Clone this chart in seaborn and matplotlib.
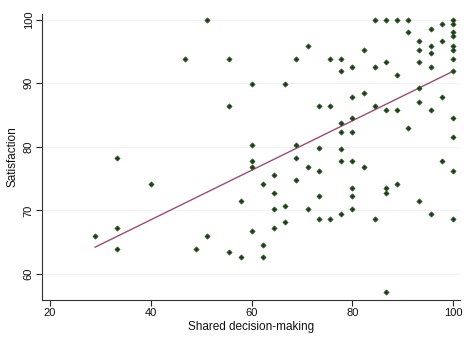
import numpy as np
import pandas as pd
import matplotlib
matplotlib.use("Agg")
import matplotlib.pyplot as plt
import seaborn as sns

# Shared decision-making score (share of items, in %) and satisfaction score per respondent
shared_dm = [
    51.1, 55.6, 71.1, 68.9, 75.6, 60.0, 66.7, 55.6, 73.3, 75.6, 60.0, 68.9, 73.3, 46.7,
    84.4, 86.7, 88.9, 91.1, 100.0, 100.0, 97.8, 95.6, 91.1, 100.0, 100.0, 93.3, 97.8,
    95.6, 100.0, 100.0, 82.2, 93.3, 95.6, 77.8, 100.0, 86.7, 93.3, 77.8, 80.0, 84.4,
    95.6, 88.9, 93.3, 80.0, 82.2, 97.8, 93.3, 84.4, 86.7, 88.9, 95.6, 80.0, 77.8,
    100.0, 77.8, 80.0, 91.1, 100.0, 77.8, 100.0,
    33.3, 40.0, 33.3, 28.9, 33.3, 48.9, 60.0, 60.0, 68.9, 71.1, 73.3, 64.4, 62.2,
    68.9, 64.4, 57.8, 73.3, 64.4, 66.7, 71.1, 73.3, 75.6, 64.4, 66.7, 60.0, 51.1,
    62.2, 55.6, 57.8, 62.2,
    77.8, 80.0, 82.2, 97.8, 100.0, 80.0, 86.7, 86.7, 88.9, 80.0, 93.3, 80.0, 77.8,
    84.4, 95.6, 100.0, 86.7,
]
satisfaction = [
    100.0, 93.9, 95.9, 93.9, 93.9, 89.9, 89.9, 86.5, 86.5, 86.5, 80.3, 80.3, 79.8, 93.9,
    100.0, 100.0, 100.0, 100.0, 100.0, 99.3, 99.3, 98.6, 98.0, 98.0, 97.5, 96.7, 96.7,
    95.9, 95.9, 95.3, 95.3, 95.3, 94.8, 93.9, 93.9, 93.3, 93.3, 91.9, 92.5, 92.5,
    92.5, 91.3, 89.2, 87.8, 88.4, 87.8, 87.1, 86.5, 85.8, 85.8, 85.8, 84.5, 83.7,
    84.5, 82.4, 82.4, 83.0, 81.6, 79.7, 91.9,
    78.2, 74.1, 67.3, 66.0, 63.9, 63.9, 77.7, 76.9, 78.2, 76.9, 76.2, 75.6, 74.1,
    74.8, 72.8, 71.4, 72.2, 70.2, 70.7, 70.2, 68.7, 68.7, 67.3, 68.1, 66.8, 66.0,
    64.5, 63.4, 62.6, 62.6,
    77.7, 77.7, 76.9, 77.7, 76.2, 73.6, 73.6, 72.8, 74.1, 72.2, 71.4, 70.2, 69.4,
    68.7, 69.4, 68.7, 57.1,
]
# Linear fit of satisfaction on shared decision-making (full sample)
fit_intercept = 52.94
fit_slope = 0.3896

x_ticks = [20, 40, 60, 80, 100]
y_ticks = [60, 70, 80, 90, 100]

df = pd.DataFrame({"Shared decision-making": shared_dm, "Satisfaction": satisfaction})
fit_x = np.array([min(shared_dm), max(shared_dm)])
fit_df = pd.DataFrame({"x": fit_x, "y": fit_intercept + fit_slope * fit_x})

sns.set_theme(style="white")
plt.rcParams["font.family"] = ["Liberation Sans", "DejaVu Sans"]

fig = plt.figure(figsize=(4.74, 3.42), dpi=100)
ax = fig.add_axes([0.0886, 0.1228, 0.8814, 0.8362])

for yv in y_ticks:
    ax.axhline(yv, color="#f0f2f5", lw=0.8, zorder=0)

sns.scatterplot(
    data=df, x="Shared decision-making", y="Satisfaction", ax=ax,
    marker="D", s=7, color="#1d3d16", edgecolor="#2c5a22", linewidth=0.5, zorder=3,
)
sns.lineplot(data=fit_df, x="x", y="y", ax=ax, color="#a04a72", lw=1.0, zorder=2)

ax.set_xlim(18.4, 101.3)
ax.set_ylim(55.9, 100.9)
ax.set_xticks(x_ticks)
ax.set_yticks(y_ticks)
ax.set_xticklabels([str(v) for v in x_ticks], fontsize=8, color="#111111")
ax.set_yticklabels([str(v) for v in y_ticks], fontsize=8, color="#111111",
                   rotation=90, va="center")
ax.tick_params(axis="both", direction="out", length=4, width=0.8, color="#222222", pad=2,
               bottom=True, left=True)
ax.set_xlabel("Shared decision-making", fontsize=8.5, color="#111111", labelpad=2)
ax.set_ylabel("Satisfaction", fontsize=8.5, color="#111111", labelpad=4)

for side in ("top", "right"):
    ax.spines[side].set_visible(False)
for side in ("left", "bottom"):
    ax.spines[side].set_color("#333333")
    ax.spines[side].set_linewidth(0.8)

fig.savefig("out.png", dpi=100, facecolor="white")
